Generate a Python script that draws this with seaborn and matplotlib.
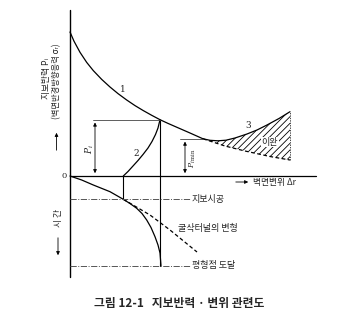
import matplotlib
matplotlib.use('Agg')
import matplotlib.pyplot as plt
import seaborn as sns
import numpy as np

sns.set_theme(style='white')
plt.rcParams['font.family'] = ['Noto Sans CJK KR', 'DejaVu Sans']
plt.rcParams['hatch.linewidth'] = 0.6
plt.rcParams['axes.unicode_minus'] = False
plt.rcParams['mathtext.fontset'] = 'dejavuserif'

# ---- data (schematic units: x = wall displacement, y>0 = support pressure, y<0 = time)
# curve 1: ground reaction curve
c1_x = [0.0, 0.4, 1.0, 1.67, 2.33, 3.17, 4.0, 4.8, 5.67, 6.5, 7.33, 8.17, 9.0, 9.8, 10.67, 12.0, 13.3]
c1_y = [14.4, 13.48, 12.37, 11.36, 10.54, 9.66, 8.9, 8.24, 7.6, 7.04, 6.54, 6.07, 5.63, 5.26, 4.88, 4.3, 3.72]
# dashed continuation of curve 1
c1d_x = [13.3, 15.5, 17.5, 20.0, 22.0]
c1d_y = [3.72, 3.0, 2.5, 1.95, 1.6]
# curve 3: with loosening
c3_x = [13.3, 14.0, 14.8, 15.6, 16.5, 17.7, 18.7, 19.7, 20.9, 22.0]
c3_y = [3.72, 3.57, 3.52, 3.58, 3.8, 4.2, 4.6, 5.1, 5.75, 6.43]
# curve 2: support characteristic
c2_x = [5.33, 5.8, 6.3, 6.8, 7.3, 7.8, 8.2, 8.55, 8.8, 9.0]
c2_y = [0.0, 0.45, 1.0, 1.55, 2.15, 2.8, 3.45, 4.15, 4.8, 5.63]
# time - displacement curve (lower part)
t_x = [0.0, 1.17, 2.33, 4.0, 5.33, 6.0, 6.67, 7.2, 7.67, 8.1, 8.5, 8.8, 9.0, 9.1]
t_y = [0.0, -0.4, -0.9, -1.57, -2.33, -2.75, -3.23, -3.75, -4.4, -5.15, -6.07, -6.9, -7.7, -8.97]
# unsupported tunnel deformation (dashed)
td_x = [5.33, 8.0, 10.0, 12.7]
td_y = [-2.33, -3.9, -5.4, -7.6]
# key values
t_support = -2.33
t_equil = -8.97
x_support = 5.33
x_equil = 9.0
p_i = 5.63
x_min = 13.3
p_min = 3.72
axis_top = 16.6
axis_bottom = -10.1
axis_right = 24.6

labels_events = ['지보시공', '굴삭터널의 변형', '평형점 도달']
caption = '그림 12-1   지보반력 · 변위 관련도'

fig = plt.figure(figsize=(3.55, 3.25), dpi=100)
ax = fig.add_axes([0, 0, 1, 1])
ax.set_xlim(-7.0, 28.5)
ax.set_ylim(-14.9, 17.6)
ax.axis('off')

K = 'black'
lw = 0.9
# axes
ax.plot([0, 0], [axis_top, axis_bottom], color=K, lw=1.0)
ax.plot([0, axis_right], [0, 0], color=K, lw=0.9)

# curves
sns.lineplot(x=c1_x, y=c1_y, ax=ax, color=K, lw=lw, sort=False, estimator=None)
sns.lineplot(x=c1d_x, y=c1d_y, ax=ax, color=K, lw=lw, sort=False, estimator=None,
             linestyle=(0, (3, 2)))
sns.lineplot(x=c3_x, y=c3_y, ax=ax, color=K, lw=lw, sort=False, estimator=None)
sns.lineplot(x=c2_x, y=c2_y, ax=ax, color=K, lw=lw, sort=False, estimator=None)
sns.lineplot(x=t_x, y=t_y, ax=ax, color=K, lw=lw, sort=False, estimator=None)
sns.lineplot(x=td_x, y=td_y, ax=ax, color=K, lw=lw, sort=False, estimator=None,
             linestyle=(0, (3, 2)))

# hatched loosening region
xx = np.array(c3_x)
low = np.interp(xx, c1d_x, c1d_y)
ax.fill_between(xx, low, c3_y, facecolor='none', edgecolor=K, hatch='/////', lw=0)
ax.plot([c3_x[-1], c3_x[-1]], [c1d_y[-1], c3_y[-1]], color=K, lw=0.5, ls=(0, (2, 1.5)))

# verticals
ax.plot([x_equil, x_equil], [p_i, t_equil], color=K, lw=0.8)
ax.plot([x_support, x_support], [0, t_support], color=K, lw=0.8)

# dash-dot event lines
ax.plot([0, 12.0], [t_support, t_support], color='#555555', lw=0.7, ls='-.')
ax.plot([0, 12.0], [t_equil, t_equil], color='#555555', lw=0.7, ls='-.')

fs = 6.5
ax.text(12.2, t_support, labels_events[0], fontsize=fs, va='center', ha='left')
ax.text(10.8, -5.2, labels_events[1], fontsize=fs, va='center', ha='left')
ax.text(12.2, t_equil, labels_events[2], fontsize=fs, va='center', ha='left')

# P_i dimension
ax.plot([2.3, x_equil], [p_i, p_i], color='#444444', lw=0.6)
ax.annotate('', xy=(2.5, p_i), xytext=(2.5, 0),
            arrowprops=dict(arrowstyle='<|-|>', color=K, lw=0.6, mutation_scale=5))
ax.text(2.0, 2.7, r'$P_i$', rotation=90, fontsize=6.5, ha='center', va='center')

# P_i,min dimension
ax.plot([11.0, x_min], [p_min, p_min], color='#444444', lw=0.6)
ax.annotate('', xy=(11.5, p_min), xytext=(11.5, 0),
            arrowprops=dict(arrowstyle='<|-|>', color=K, lw=0.6, mutation_scale=5))
ax.text(12.3, 1.8, r'$P_{i\,\min}$', rotation=90, fontsize=5.5, ha='center', va='center')

# curve labels
sf = ['DejaVu Serif']
ax.text(5.3, 8.7, '1', fontsize=6.5, family=sf, ha='center', va='center')
ax.text(6.6, 2.3, '2', fontsize=6.5, family=sf, ha='center', va='center')
ax.text(17.8, 5.1, '3', fontsize=6.5, family=sf, ha='center', va='center')
ax.text(20.0, 3.4, '이완', fontsize=6.5, ha='center', va='center',
        bbox=dict(facecolor='white', edgecolor='none', pad=0.3))
ax.text(-0.6, 0.05, '0', fontsize=6, family=sf, ha='center', va='center')

# x axis label
ax.annotate('', xy=(18.1, -0.6), xytext=(16.3, -0.6),
            arrowprops=dict(arrowstyle='-|>', color=K, lw=0.6, mutation_scale=5))
ax.text(18.3, -0.6, '벽면변위 Δr', fontsize=6.3, ha='left', va='center')

# y axis labels
ax.text(-2.4, 9.8, '지보반력 Pᵢ', rotation=90, fontsize=6.3, ha='center', va='center')
ax.text(-1.35, 9.5, '(벽면반경방향응력 σᵣ)', rotation=90, fontsize=6.0, ha='center', va='center')
ax.annotate('', xy=(-1.35, 4.6), xytext=(-1.35, 2.3),
            arrowprops=dict(arrowstyle='-|>', color=K, lw=0.6, mutation_scale=5))
ax.text(-1.2, -4.2, '시 간', rotation=90, fontsize=6.3, ha='center', va='center')
ax.annotate('', xy=(-1.2, -8.2), xytext=(-1.2, -5.9),
            arrowprops=dict(arrowstyle='-|>', color=K, lw=0.6, mutation_scale=5))

# caption
ax.text(10.9, -12.7, caption, fontsize=8.5, weight='bold', ha='center', va='center')

fig.savefig('out.png', dpi=100)
